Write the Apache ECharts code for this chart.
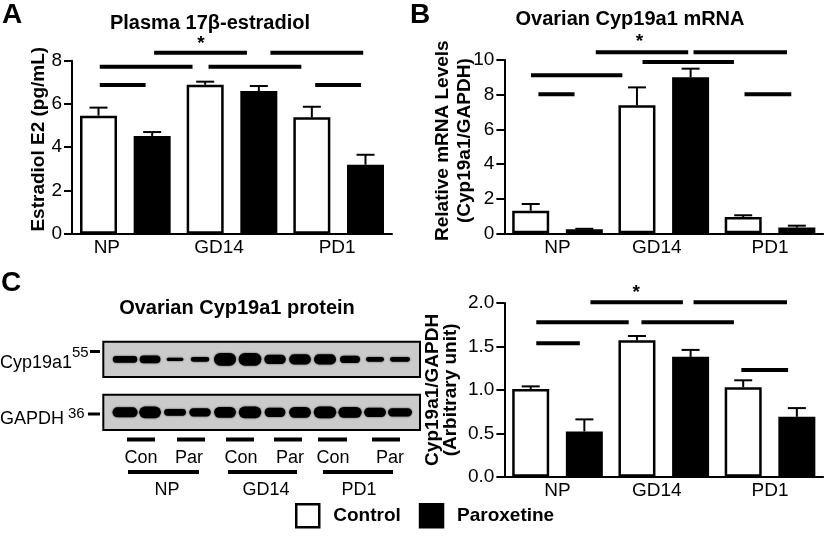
<!DOCTYPE html>
<html>
<head>
<meta charset="UTF-8">
<title>Cyp19a1</title>
<script src="https://cdn.jsdelivr.net/npm/echarts@6/dist/echarts.min.js"></script>
<style>
html,body{margin:0;padding:0;background:#fff}
#chart{width:827px;height:538px}
</style>
</head>
<body>
<div id="chart"></div>
<script>
var groups = ['NP', 'GD14', 'PD1'];

// A: plasma 17b-estradiol (pg/mL)
var e2Con = [5.46, 6.89, 5.38], e2ConSem = [0.37, 0.14, 0.49];
var e2Par = [4.52, 6.60, 3.19], e2ParSem = [0.18, 0.23, 0.46];
var e2Sig = [[0.77, 1.64, 8.37], [1.86, 2.73, 8.37], [0.26, 1.13, 7.72], [1.28, 2.15, 7.72], [0.26, 0.69, 6.88], [2.28, 2.71, 6.88]];
var e2Star = [[1.21, 8.77]];

// B: ovarian Cyp19a1 mRNA
var mrnaCon = [1.30, 7.39, 0.94], mrnaConSem = [0.39, 1.03, 0.10];
var mrnaPar = [0.23, 9.00, 0.33], mrnaParSem = [0.03, 0.50, 0.11];
var mrnaSig = [[0.86, 1.73, 10.44], [1.78, 2.66, 10.44], [1.30, 2.16, 9.89], [0.25, 1.11, 9.12], [0.32, 0.66, 8.02], [2.26, 2.70, 8.02]];
var mrnaStar = [[1.27, 11.07]];

// C: Cyp19a1/GAPDH protein
var protCon = [1.01, 1.57, 1.03], protConSem = [0.03, 0.05, 0.08];
var protPar = [0.52, 1.38, 0.69], protParSem = [0.14, 0.08, 0.10];
var protSig = [[0.81, 1.68, 2.008], [1.78, 2.66, 2.008], [0.30, 1.17, 1.778], [1.29, 2.16, 1.778], [0.30, 0.71, 1.536], [2.23, 2.67, 1.229]];
var protStar = [[1.24, 2.115]];

// western blot lanes (Con, Con, Par, Par per stage)
var lanes = [0, 1, 2, 3, 4, 5, 6, 7, 8, 9, 10, 11];
var cypBandW = [0.98, 0.83, 0.67, 0.74, 0.88, 0.91, 0.86, 0.87, 0.88, 0.80, 0.72, 0.80];
var cypBandT = [0.38, 0.45, 0.19, 0.28, 0.72, 0.72, 0.53, 0.57, 0.57, 0.41, 0.28, 0.28];
var gapdhBandW = [1.00, 0.87, 0.87, 0.86, 0.87, 0.90, 0.83, 0.87, 0.90, 0.93, 0.87, 0.96];
var gapdhBandT = [0.57, 0.66, 0.38, 0.47, 0.61, 0.66, 0.53, 0.61, 0.66, 0.61, 0.53, 0.47];
var blotRows = [1, 4];
var blotBoxes = [[0, 2], [3, 5]];
var blotLaneRange = [-0.87, 11.8];

var FONT = 'Liberation Sans, Arial, sans-serif';
var BAR_W = 37, BAR_GAP = 0.45, CAP = 18;
var OFF = (BAR_W + BAR_W * BAR_GAP) / 2;

function errorBars(offset) {
  return function (params, api) {
    var base = api.coord([api.value(0), api.value(1)]);
    var top = api.coord([api.value(0), api.value(1) + api.value(2)]);
    var cx = base[0] + offset;
    var st = { stroke: '#000', lineWidth: 2 };
    return { type: 'group', children: [
      { type: 'line', shape: { x1: cx, y1: base[1], x2: cx, y2: top[1] }, style: st },
      { type: 'line', shape: { x1: cx - CAP / 2, y1: top[1], x2: cx + CAP / 2, y2: top[1] }, style: st }
    ]};
  };
}
function sigLine(params, api) {
  var a = api.coord([api.value(0), api.value(2)]);
  var b = api.coord([api.value(1), api.value(2)]);
  return { type: 'line', shape: { x1: a[0], y1: a[1], x2: b[0], y2: b[1] }, style: { stroke: '#000', lineWidth: 4 } };
}
function starItem(params, api) {
  var p = api.coord([api.value(0), api.value(1)]);
  return { type: 'text', x: p[0], y: p[1], style: { text: '*', fontSize: 19, fontWeight: 'bold', fontFamily: FONT, fill: '#000', align: 'center', verticalAlign: 'middle' } };
}
function bandItem(params, api) {
  var c = api.coord([api.value(0), api.value(1)]);
  var s = api.size([api.value(2), api.value(3)]);
  return { type: 'rect', shape: { x: c[0] - s[0] / 2, y: c[1] - s[1] / 2, width: s[0], height: s[1], r: s[1] / 2 },
    style: { fill: '#000', shadowBlur: 2, shadowColor: 'rgba(0,0,0,0.7)' } };
}
function boxItem(params, api) {
  var a = api.coord([blotLaneRange[0], api.value(0)]);
  var b = api.coord([blotLaneRange[1], api.value(1)]);
  return { type: 'rect', shape: { x: a[0], y: a[1], width: b[0] - a[0], height: b[1] - a[1] },
    style: { fill: '#cbcbcb', stroke: '#000', lineWidth: 2 } };
}
function errData(sem, vals) { return vals.map(function (v, i) { return [i, v, sem[i]]; }); }

function catAxis(grid, shifts) {
  return {
    gridIndex: grid, type: 'category', data: groups,
    axisLine: { lineStyle: { color: '#000', width: 2 } },
    axisTick: { show: false },
    axisLabel: {
      interval: 0, hideOverlap: false,
      color: '#000', fontSize: 19, fontFamily: FONT, margin: 5,
      formatter: function (v, i) { return '{l' + i + '|' + v + '}'; },
      rich: { l0: { padding: [0, shifts[0], 0, 0] }, l1: { padding: [0, shifts[1], 0, 0] }, l2: { padding: [0, shifts[2], 0, 0] } }
    }
  };
}
function hiddenX(grid, min, max) { return { gridIndex: grid, type: 'value', min: min, max: max, show: false }; }
function valAxis(grid, min, max, step, dec, name, gap, lh, lift) {
  return {
    gridIndex: grid, type: 'value', min: min, max: max, interval: step,
    name: name, nameLocation: 'middle', nameRotate: 90, nameGap: gap, nameMoveOverlap: false,
    nameTextStyle: { color: '#000', fontSize: 19, fontWeight: 'bold', fontFamily: FONT, lineHeight: lh, padding: [0, 0, 0, lift] },
    axisLine: { show: true, lineStyle: { color: '#000', width: 2 } },
    axisTick: { show: true, length: 8, lineStyle: { color: '#000', width: 2 } },
    splitLine: { show: false },
    axisLabel: { color: '#000', fontSize: 19, fontFamily: FONT, margin: 10,
      formatter: function (v) { return v.toFixed(dec); } }
  };
}
function panelSeries(xCat, xVal, y, con, conSem, par, parSem, sig, star) {
  return [
    { name: 'Control', type: 'bar', xAxisIndex: xCat, yAxisIndex: y, data: con, barWidth: BAR_W, barGap: (BAR_GAP * 100) + '%',
      itemStyle: { color: '#fff', borderColor: '#000', borderWidth: 2.5 } },
    { name: 'Paroxetine', type: 'bar', xAxisIndex: xCat, yAxisIndex: y, data: par, barWidth: BAR_W, barGap: (BAR_GAP * 100) + '%',
      itemStyle: { color: '#000', borderColor: '#000', borderWidth: 2.5 } },
    { type: 'custom', xAxisIndex: xCat, yAxisIndex: y, renderItem: errorBars(-OFF), data: errData(conSem, con), z: 3 },
    { type: 'custom', xAxisIndex: xCat, yAxisIndex: y, renderItem: errorBars(OFF), data: errData(parSem, par), z: 3 },
    { type: 'custom', xAxisIndex: xVal, yAxisIndex: y, renderItem: sigLine, data: sig, clip: false },
    { type: 'custom', xAxisIndex: xVal, yAxisIndex: y, renderItem: starItem, data: star, clip: false }
  ];
}

var bandData = [];
lanes.forEach(function (l, i) {
  bandData.push([l, blotRows[0], cypBandW[i], cypBandT[i]]);
  bandData.push([l, blotRows[1], gapdhBandW[i], gapdhBandT[i]]);
});

function txt(t, x, y, size, bold, align) {
  return { type: 'text', x: x, y: y, style: { text: t, fontSize: size, fontWeight: bold ? 'bold' : 'normal', fontFamily: FONT,
    fill: '#000', align: align || 'center', verticalAlign: 'middle', textAlign: align || 'center', textVerticalAlign: 'middle' } };
}
function hline(x1, x2, y, w) {
  return { type: 'line', shape: { x1: x1, y1: y, x2: x2, y2: y }, style: { stroke: '#000', lineWidth: w } };
}

var blotTreat = ['Con', 'Par', 'Con', 'Par', 'Con', 'Par'];
var treatX = [141, 189, 241, 290, 333, 390];
var treatLine = [[127, 155], [177, 205], [226, 254], [274, 302], [318, 347], [372, 400]];
var groupX = [167, 266, 359];
var groupLine = [[128, 199], [228, 297], [323, 393]];

var graphics = [
  txt('A', 2, 15, 28, true, 'left'),
  txt('B', 410, 15, 28, true, 'left'),
  txt('C', 1, 283, 28, true, 'left'),
  txt('Cyp19a1', 0, 363, 18, false, 'left'),
  txt('GAPDH', 0, 419, 18, false, 'left'),
  txt('55', 72, 353, 15, false, 'left'),
  txt('36', 68, 414, 15, false, 'left'),
  hline(90, 100, 351.5, 3),
  hline(88, 100, 414, 3)
];
blotTreat.forEach(function (t, i) {
  graphics.push(hline(treatLine[i][0], treatLine[i][1], 439.5, 4));
  graphics.push(txt(t, treatX[i], 458, 18, false));
});
groups.forEach(function (g, i) {
  graphics.push(hline(groupLine[i][0], groupLine[i][1], 472, 4));
  graphics.push(txt(g, groupX[i], 490, 18, false));
});

var titleStyle = { color: '#000', fontSize: 20, fontWeight: 'bold', fontFamily: FONT };
var chart = echarts.init(document.getElementById('chart'));
chart.setOption({
  animation: false,
  backgroundColor: '#fff',
  title: [
    { text: 'Plasma 17β-estradiol', left: 210, top: 13, textAlign: 'center', padding: 0, textStyle: titleStyle },
    { text: 'Ovarian Cyp19a1 mRNA', left: 630, top: 9, textAlign: 'center', padding: 0, textStyle: titleStyle },
    { text: 'Ovarian Cyp19a1 protein', left: 237, top: 298, textAlign: 'center', padding: 0, textStyle: titleStyle }
  ],
  legend: {
    data: ['Control', 'Paroxetine'], left: 295, top: 503, padding: 0, icon: 'rect',
    itemWidth: 23, itemHeight: 23, itemGap: 18,
    itemStyle: { borderColor: '#000', borderWidth: 2.5 },
    textStyle: { color: '#000', fontSize: 19, fontWeight: 'bold', fontFamily: FONT, padding: [0, 0, 0, 9] },
    selectedMode: false
  },
  grid: [
    { left: 72, top: 60.7, width: 320, height: 173 },
    { left: 504.4, top: 60, width: 318.75, height: 173.3 },
    { left: 504.4, top: 303, width: 318.75, height: 173.7 },
    { left: 103.3, top: 341.7, width: 316.7, height: 88.3 }
  ],
  xAxis: [
    catAxis(0, [37, 26, 3]), hiddenX(0, 0, 3),
    catAxis(1, [0, 14, 0]), hiddenX(1, 0, 3),
    catAxis(2, [0, 14, 0]), hiddenX(2, 0, 3),
    hiddenX(3, blotLaneRange[0], blotLaneRange[1])
  ],
  yAxis: [
    valAxis(0, 0, 8, 2, 0, 'Estradiol E2 (pg/mL)', 22, 22, 16),
    valAxis(1, 0, 10, 2, 0, 'Relative mRNA Levels\n(Cyp19a1/GAPDH)', 29, 22, 12),
    valAxis(2, 0, 2, 0.5, 1, 'Cyp19a1/GAPDH\n(Arbitrary unit)', 45, 18, 0),
    { gridIndex: 3, type: 'value', min: 0, max: 5, inverse: true, show: false }
  ],
  series: [].concat(
    panelSeries(0, 1, 0, e2Con, e2ConSem, e2Par, e2ParSem, e2Sig, e2Star),
    panelSeries(2, 3, 1, mrnaCon, mrnaConSem, mrnaPar, mrnaParSem, mrnaSig, mrnaStar),
    panelSeries(4, 5, 2, protCon, protConSem, protPar, protParSem, protSig, protStar),
    [
      { type: 'custom', xAxisIndex: 6, yAxisIndex: 3, renderItem: boxItem, data: blotBoxes, clip: false },
      { type: 'custom', xAxisIndex: 6, yAxisIndex: 3, renderItem: bandItem, data: bandData, z: 3 }
    ]
  ),
  graphic: graphics
});
</script>
</body>
</html>
